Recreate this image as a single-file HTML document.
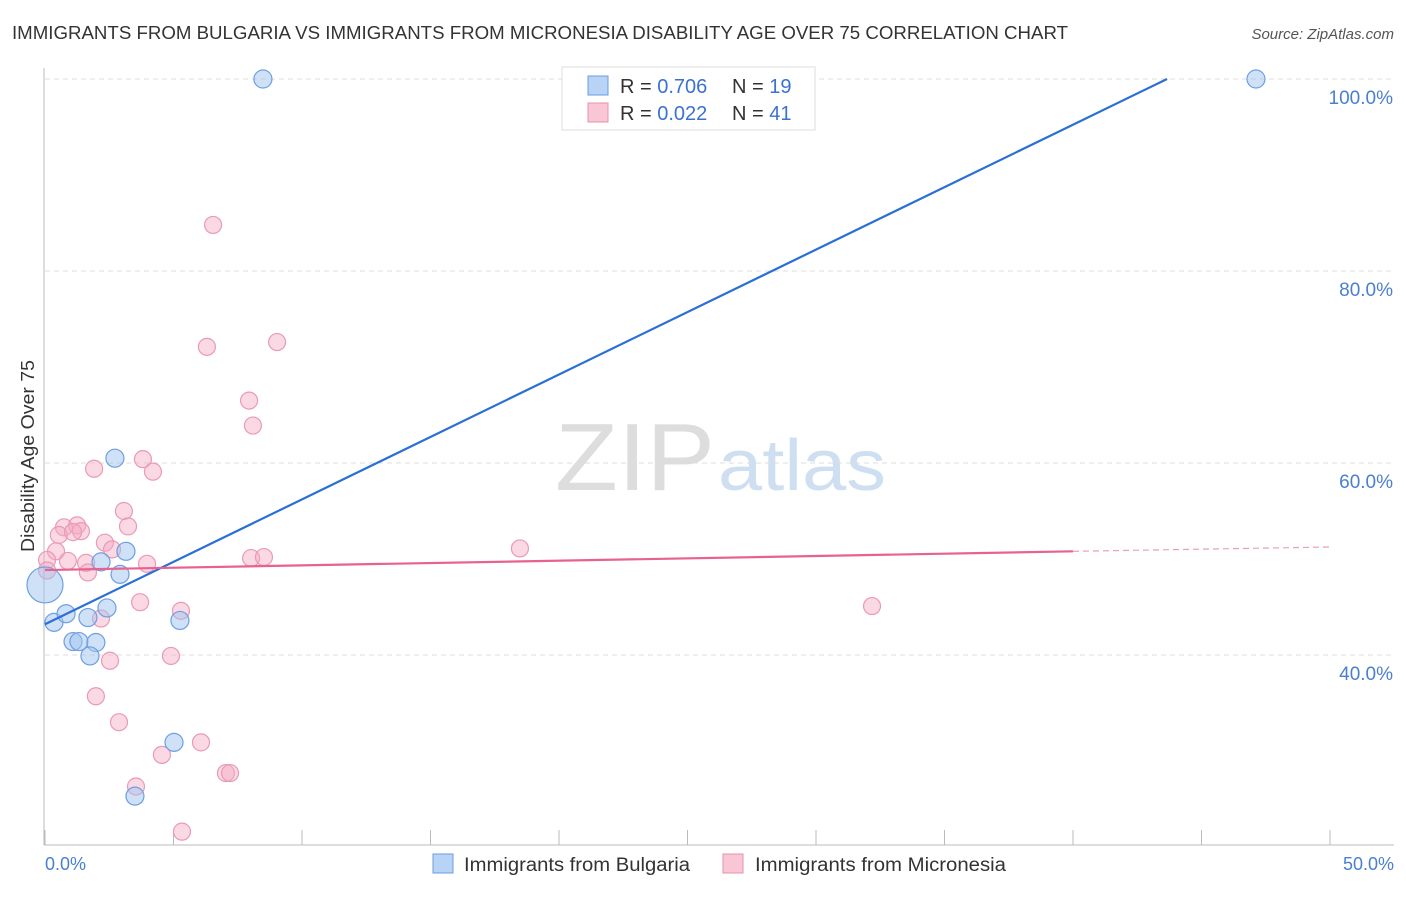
<!DOCTYPE html>
<html><head><meta charset="utf-8"><style>
body{margin:0;background:#fff;font-family:"Liberation Sans",sans-serif}
svg text{font-family:"Liberation Sans",sans-serif}
</style></head><body>
<svg id="c" width="1406" height="892">
<text x="12" y="39" font-size="18" fill="#333" textLength="1056" lengthAdjust="spacingAndGlyphs">IMMIGRANTS FROM BULGARIA VS IMMIGRANTS FROM MICRONESIA DISABILITY AGE OVER 75 CORRELATION CHART</text>
<text x="1394" y="39" font-size="15" fill="#555" font-style="italic" text-anchor="end">Source: ZipAtlas.com</text>
<text x="555" y="490" font-size="96" fill="#ddd" textLength="160" lengthAdjust="spacingAndGlyphs" font-family="Liberation Serif">ZIP</text>
<text x="718" y="490" font-size="72" fill="#cfdff2" textLength="168" lengthAdjust="spacingAndGlyphs">atlas</text>
<g id="grid"></g><g id="pts"></g><g id="lines"></g>
<text x="34" y="456" font-size="18" fill="#333" text-anchor="middle" transform="rotate(-90 34 456)" textLength="192" lengthAdjust="spacingAndGlyphs">Disability Age Over 75</text>
<text x="45" y="870" font-size="18" fill="#4a7fd0">0.0%</text>
<text x="1394" y="870" font-size="18" fill="#4a7fd0" text-anchor="end">50.0%</text>
<g>
<rect x="562" y="67" width="253" height="63" fill="#fff" stroke="#ddd"/>
<rect x="588" y="76" width="20" height="19" fill="#b8d3f5" stroke="#6a9de0"/>
<rect x="588" y="103" width="20" height="19" fill="#f9c6d5" stroke="#e890ab"/>
<text x="620" y="93" font-size="20" fill="#333">R = <tspan fill="#3a72d0">0.706</tspan></text>
<text x="732" y="93" font-size="20" fill="#333">N = <tspan fill="#3a72d0">19</tspan></text>
<text x="620" y="120" font-size="20" fill="#333">R = <tspan fill="#3a72d0">0.022</tspan></text>
<text x="732" y="120" font-size="20" fill="#333">N = <tspan fill="#3a72d0">41</tspan></text>
</g>
<g>
<rect x="433" y="854" width="20" height="19" fill="#b8d3f5" stroke="#6a9de0"/>
<text x="464" y="871" font-size="19" fill="#333" textLength="226" lengthAdjust="spacingAndGlyphs">Immigrants from Bulgaria</text>
<rect x="723" y="854" width="20" height="19" fill="#f9c6d5" stroke="#e890ab"/>
<text x="755" y="871" font-size="19" fill="#333" textLength="251" lengthAdjust="spacingAndGlyphs">Immigrants from Micronesia</text>
</g>
</svg>
<script>
const yTicks=[40,60,80,100];
const xTicks=[0,5,10,15,20,25,30,35,40,45,50];
const blueX=[8.48,47.12,2.72,3.15,2.18,2.92,0,2.41,0.35,0.82,1.67,5.25,1.09,1.32,1.98,1.75,5.02,3.5];
const blueY=[100,100,60.5,50.8,49.7,48.4,47.3,44.9,43.4,44.3,43.9,43.6,41.4,41.4,41.3,39.9,30.9,25.3];
const blueR=[9,9,9,9,9,9,18,9,9,9,9,9,9,9,9,9,9,9];
const pinkX=[6.54,6.30,9.03,7.94,8.09,1.91,3.81,4.2,3.07,3.23,0.74,1.25,1.4,0.54,1.09,0.43,2.33,2.61,0.89,1.6,0.08,0.08,1.67,3.97,8.02,8.52,18.48,3.7,5.29,2.18,32.18,4.9,2.53,1.98,2.88,4.55,6.07,7.04,7.2,3.54,5.33];
const pinkY=[84.8,72.1,72.6,66.5,63.9,59.4,60.4,59.1,55.0,53.4,53.3,53.5,52.9,52.5,52.8,50.8,51.7,51.0,49.8,49.6,49.9,48.8,48.6,49.5,50.1,50.2,51.1,45.5,44.6,43.8,45.1,39.9,39.4,35.7,33.0,29.6,30.9,27.7,27.7,26.3,21.6];
const blueTrend=[[0,43.2],[43.66,100]];
const pinkTrend=[[0,48.85],[40,50.8]];
const pinkDash=[[40,50.8],[50,51.25]];
const X=v=>45+v*25.7, Y=v=>1039-v*9.6;
const NS='http://www.w3.org/2000/svg';
function mk(t,a,p){const e=document.createElementNS(NS,t);for(const k in a)e.setAttribute(k,a[k]);p.appendChild(e);return e;}
const g=document.getElementById('grid');
yTicks.forEach(v=>{
const l=mk('line',{x1:45,x2:1394,y1:Y(v),y2:Y(v),stroke:'#ddd','stroke-dasharray':'5,4'},g);


const t=mk('text',{x:1393,y:Y(v)+25,'font-size':19,fill:'#4a7fd0','text-anchor':'end'},g);
t.textContent=v.toFixed(1)+'%';


});
const ax=mk('line',{x1:44,x2:44,y1:68,y2:845,stroke:'#bbb'},g);


const bx=mk('line',{x1:44,x2:1394,y1:845,y2:845,stroke:'#bbb'},g);


xTicks.forEach(v=>{
const l=mk('line',{x1:X(v),x2:X(v),y1:830,y2:845,stroke:'#bbb'},g);


});
const p=document.getElementById('pts');
pinkX.forEach((v,i)=>{
const c=mk('circle',{cx:X(v),cy:Y(pinkY[i]),r:8.5,fill:'rgba(245,170,195,0.45)',stroke:'#eb9ab4','stroke-width':1.2},p);


});
blueX.forEach((v,i)=>{
const c=mk('circle',{cx:X(v),cy:Y(blueY[i]),r:blueR[i],fill:'rgba(160,195,240,0.5)',stroke:'#6e9fe0','stroke-width':1.2},p);


});
const L=document.getElementById('lines');
const b=mk('line',{x1:X(blueTrend[0][0]),y1:Y(blueTrend[0][1]),x2:X(blueTrend[1][0]),y2:Y(blueTrend[1][1]),stroke:'#2a6fd6','stroke-width':2.2},L);


const q=mk('line',{x1:X(pinkTrend[0][0]),y1:Y(pinkTrend[0][1]),x2:X(pinkTrend[1][0]),y2:Y(pinkTrend[1][1]),stroke:'#e8628e','stroke-width':2.2},L);


const d=mk('line',{x1:X(pinkDash[0][0]),y1:Y(pinkDash[0][1]),x2:X(pinkDash[1][0]),y2:Y(pinkDash[1][1]),stroke:'#e8a0b8','stroke-width':1.2,'stroke-dasharray':'6,4'},L);


</script>
</body></html>
